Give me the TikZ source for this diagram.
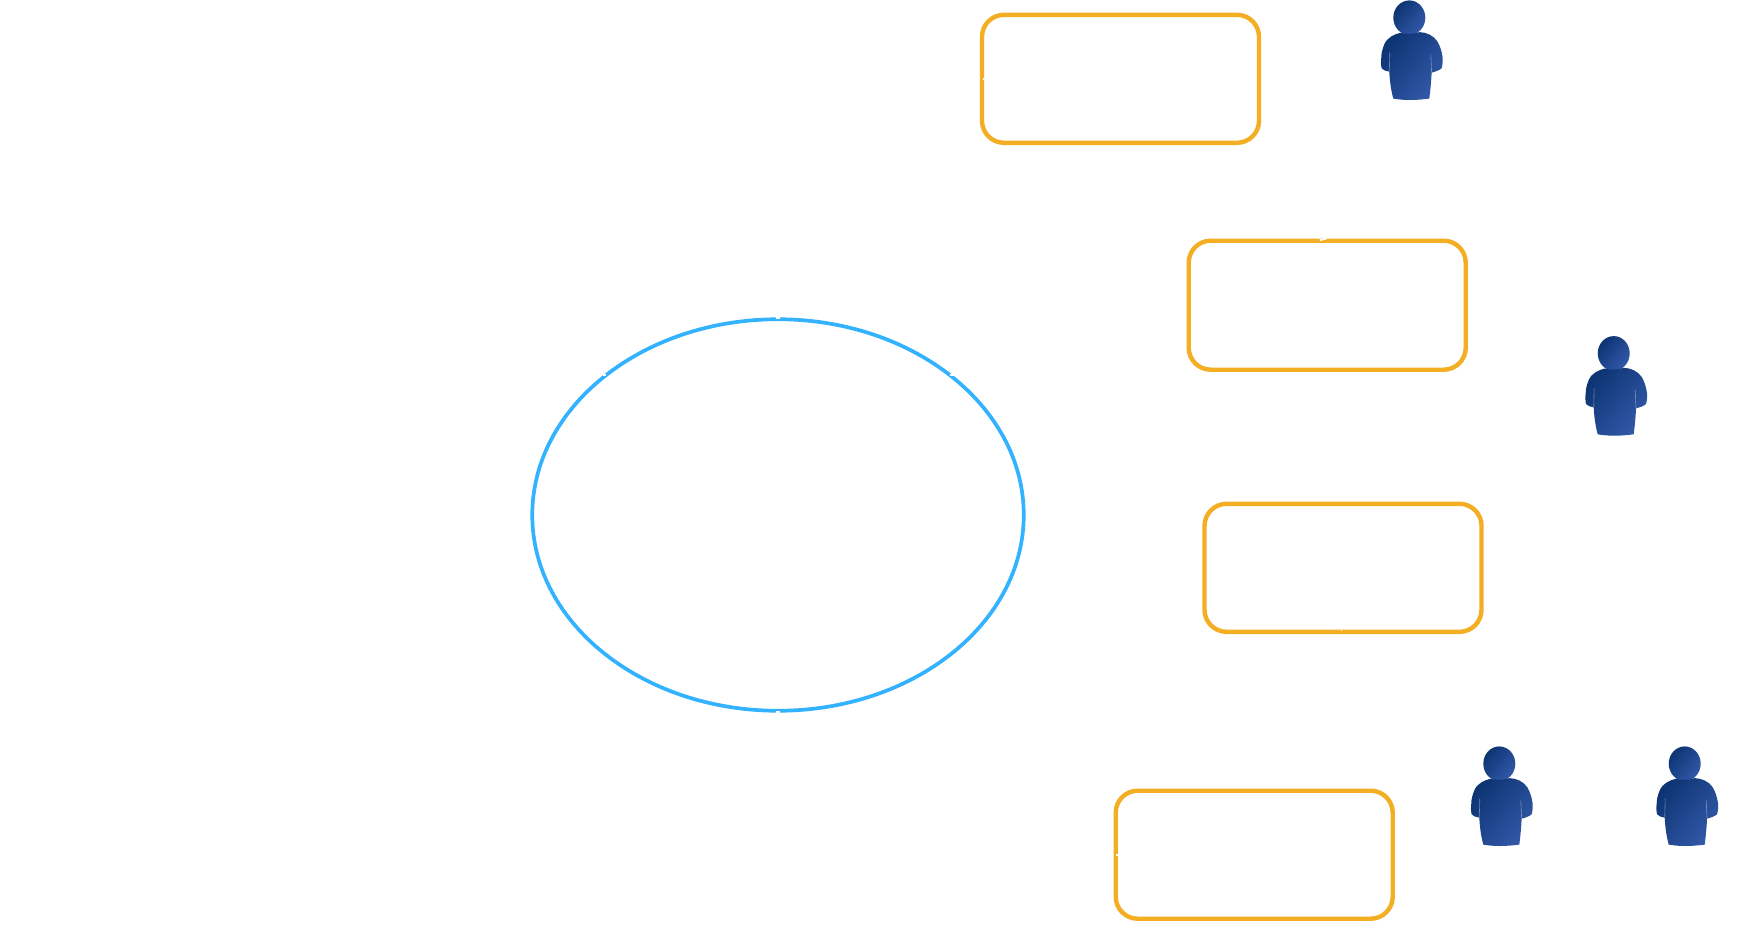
\documentclass[tikz,border=0pt]{standalone}
\usepackage{tikz}
\usetikzlibrary{shapes.geometric}
\definecolor{amberline}{HTML}{F3AE24}
\definecolor{skyline}{HTML}{33B2FF}
\definecolor{persondark}{HTML}{0D3573}
\definecolor{personlight}{HTML}{3258A8}
\tikzset{
  card/.style={draw=amberline,line width=4.4pt,rounded corners=22pt,fill=white,minimum width=277pt,minimum height=128pt,inner sep=0pt,outer sep=0pt},
  hub/.style={ellipse,draw=skyline,line width=3.7pt,fill=white,minimum width=491.5pt,minimum height=391.5pt,inner sep=0pt,outer sep=0pt},
  nick/.style={fill=white,draw=none,minimum width=#1,minimum height=2pt,inner sep=0pt,outer sep=0pt},
  persontone/.style={top color=persondark,bottom color=personlight,shading angle=50},
  pics/person/.style={code={
    \shade[persontone] (0,0.4) ellipse[x radius=16pt,y radius=17.3pt];
    \shade[persontone]
      (-9,15.5) .. controls (-15,17) and (-22,20) .. (-25,27)
      .. controls (-27,32) and (-28,36) .. (-28,40)
      .. controls (-28.5,44) and (-28.5,47) .. (-27.7,51)
      .. controls (-26,53) and (-23,54) .. (-20,54.3)
      .. controls (-19.5,65) and (-18,74) .. (-16,81.3)
      .. controls (-10,82.3) and (-5,82.7) .. (0.7,82.7)
      .. controls (8,82.7) and (14,82) .. (20,81.3)
      .. controls (21,73) and (22,64) .. (22.3,55.3)
      .. controls (26,54.5) and (30,53) .. (32.3,51)
      .. controls (33.5,47) and (33.5,43) .. (33.3,40)
      .. controls (32.5,34) and (30.5,28) .. (28,24)
      .. controls (24,18) and (17,15) .. (10,14.8)
      .. controls (4,17) and (-4,17) .. (-9,15.5) -- cycle;
    \draw[white,opacity=.4,line width=.6pt] (-19.5,35) -- (-20,54);
    \draw[white,opacity=.4,line width=.6pt] (21.5,37) -- (22.3,55);
  }}
}
\begin{document}
\begin{tikzpicture}[x=1pt,y=-1pt]
\useasboundingbox (0,0) rectangle (1758,948);
\node[hub] (hub) at (778,515) {};
\node[card] (cardA) at (1120.5,78.8) {};
\node[card,minimum height=129pt] (cardB) at (1327.2,305.2) {};
\node[card] (cardC) at (1343,567.8) {};
\node[card] (cardD) at (1254.2,854.7) {};
\node[nick=4pt,minimum height=2pt] (hubtop) at ([yshift=.9pt]hub.north) {};
\node[nick=4pt,minimum height=2pt] (hubbottom) at ([yshift=-.9pt]hub.south) {};
\node[nick=2.5pt,minimum height=1.8pt] (hubleft) at (604.5,375) {};
\node[nick=4pt,minimum height=1.8pt] (hubright) at (951.5,375) {};
\node[nick=1.4pt,minimum height=1.6pt] (nickA) at ([xshift=1.2pt]cardA.west) {};
\node[nick=7pt,minimum height=1.8pt,rotate=15] (nickB) at ([xshift=-4pt,yshift=1.4pt]cardB.north) {};
\node[nick=1.5pt,minimum height=1.6pt] (nickC) at ([xshift=-1.5pt,yshift=1.4pt]cardC.south) {};
\node[nick=2pt,minimum height=1.6pt] (nickD) at ([xshift=1.2pt]cardD.west) {};
\pic (personA) at (1409.3,17.3) {person};
\pic (personB) at (1613.7,353) {person};
\pic (personC) at (1499.3,763.3) {person};
\pic (personD) at (1684.7,763.3) {person};
\end{tikzpicture}
\end{document}
